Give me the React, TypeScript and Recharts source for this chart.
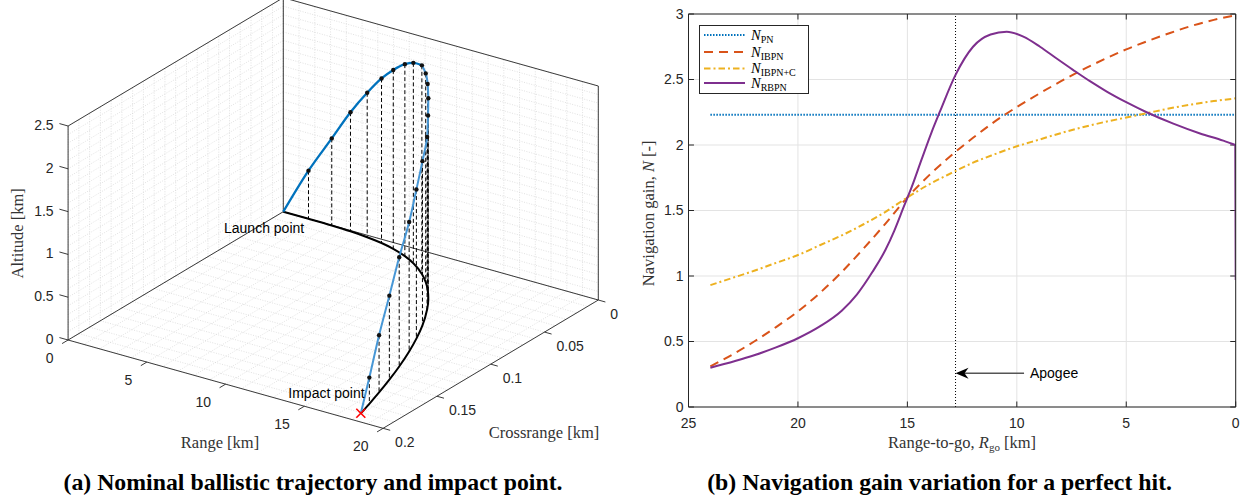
import React from 'react';
import { ComposedChart, Line, XAxis, YAxis, CartesianGrid, ReferenceLine, ReferenceDot, Legend } from 'recharts';

const SANS = '"Liberation Sans", Arial, Helvetica, sans-serif';
const SERIF = '"Liberation Serif", "Times New Roman", serif';
const AXIS_COLOR = '#262626';

// ================= Panel (a): nominal ballistic trajectory (3-D) =================
const trajRange = [0, 1.6, 3.09, 4.32, 5.47, 6.51, 7.44, 8.47, 9.35, 10.5, 11.25, 11.87, 12.52, 12.9, 13.29, 14.24, 14.94, 15.56, 16.22, 16.75, 17.23, 17.63, 17.95];
const trajCross = [0, 0, 0.0002, 0.0008, 0.0021, 0.004, 0.0067, 0.011, 0.016, 0.0249, 0.0323, 0.0396, 0.0485, 0.0543, 0.0609, 0.0791, 0.095, 0.1108, 0.1297, 0.1466, 0.1632, 0.1781, 0.1907];
const trajAlt = [0, 0.562, 1.017, 1.391, 1.687, 1.922, 2.09, 2.243, 2.341, 2.438, 2.438, 2.4, 2.335, 2.196, 2.014, 1.918, 1.741, 1.512, 1.276, 0.982, 0.668, 0.306, 0];
const APOGEE_IDX = 9;

const rangeTicks = [0, 5, 10, 15, 20];
const rangeTickLabels = ['0', '5', '10', '15', '20'];
const crossTicks = [0, 0.05, 0.1, 0.15, 0.2];
const crossTickLabels = ['0', '0.05', '0.1', '0.15', '0.2'];
const altTicks = [0, 0.5, 1, 1.5, 2, 2.5];
const altTickLabels = ['0', '0.5', '1', '1.5', '2', '2.5'];
const RANGE_MAX = 20;
const CROSS_MAX = 0.2;
const ALT_MAX = 2.5;
const rangeMinor = Array.from({ length: 21 }, (_, i) => i);
const crossMinor = Array.from({ length: 21 }, (_, i) => +(i * 0.01).toFixed(2));
const altMinor = Array.from({ length: 26 }, (_, i) => +(i * 0.1).toFixed(1));

// orthographic view of the 3-D axes onto the page plane
const VIEW = { u0: 283.3, v0: 211.7, ur: 15.75, vr: 4.415, uc: -1076, vc: 641.5, va: -85.6 };
type Pt3 = [number, number, number];
const project = (r: number, c: number, a: number) => ({
  u: VIEW.u0 + VIEW.ur * r + VIEW.uc * c,
  v: VIEW.v0 + VIEW.vr * r + VIEW.vc * c + VIEW.va * a,
});
const toSegments = (pairs: [Pt3, Pt3][]) =>
  pairs.flatMap(([a, b]) => {
    const p = project(a[0], a[1], a[2]);
    const q = project(b[0], b[1], b[2]);
    return [p, q, { u: q.u, v: null as number | null }];
  });

const LEFT_W = 640;
const LEFT_H = 470;

const renderText = (p: any) => {
  const d = p.payload;
  if (p.cx == null || p.cy == null) return <g key={`e${p.index}`} />;
  const x = p.cx + d.dx;
  const y = p.cy + d.dy;
  return (
    <text
      key={`t${p.index}`}
      x={x}
      y={y}
      textAnchor={d.anchor}
      dominantBaseline="central"
      fontFamily={d.font}
      fontSize={d.size}
      fill={d.color}
      transform={d.rotate ? `rotate(${d.rotate}, ${x}, ${y})` : undefined}
    >
      {d.text}
    </text>
  );
};

const renderCross = (p: any) => {
  if (p.cx == null) return <g key={`x${p.index}`} />;
  const s = 4.5;
  return (
    <g key={`x${p.index}`}>
      <line x1={p.cx - s} y1={p.cy - s} x2={p.cx + s} y2={p.cy + s} stroke="#ff0000" strokeWidth={1.6} />
      <line x1={p.cx - s} y1={p.cy + s} x2={p.cx + s} y2={p.cy - s} stroke="#ff0000" strokeWidth={1.6} />
    </g>
  );
};

function Panel3D() {
  const gridPairs: [Pt3, Pt3][] = [
    ...rangeMinor.map((r) => [[r, 0, 0], [r, CROSS_MAX, 0]] as [Pt3, Pt3]),
    ...crossMinor.map((c) => [[0, c, 0], [RANGE_MAX, c, 0]] as [Pt3, Pt3]),
    ...rangeMinor.map((r) => [[r, 0, 0], [r, 0, ALT_MAX]] as [Pt3, Pt3]),
    ...altMinor.map((a) => [[0, 0, a], [RANGE_MAX, 0, a]] as [Pt3, Pt3]),
    ...crossMinor.map((c) => [[0, c, 0], [0, c, ALT_MAX]] as [Pt3, Pt3]),
    ...altMinor.map((a) => [[0, 0, a], [0, CROSS_MAX, a]] as [Pt3, Pt3]),
  ];
  const boxPairs: [Pt3, Pt3][] = [
    [[0, CROSS_MAX, 0], [0, CROSS_MAX, ALT_MAX]],
    [[0, CROSS_MAX, ALT_MAX], [0, 0, ALT_MAX]],
    [[0, 0, 0], [0, 0, ALT_MAX]],
    [[0, 0, ALT_MAX], [RANGE_MAX, 0, ALT_MAX]],
    [[RANGE_MAX, 0, ALT_MAX], [RANGE_MAX, 0, 0]],
    [[0, CROSS_MAX, 0], [RANGE_MAX, CROSS_MAX, 0]],
    [[RANGE_MAX, CROSS_MAX, 0], [RANGE_MAX, 0, 0]],
    [[0, CROSS_MAX, 0], [0, 0, 0]],
    [[0, 0, 0], [RANGE_MAX, 0, 0]],
  ];
  const tickPairs: [Pt3, Pt3][] = [
    ...altTicks.map((a) => [[0, CROSS_MAX, a], [-0.55, CROSS_MAX, a]] as [Pt3, Pt3]),
    ...rangeTicks.map((r) => [[r, CROSS_MAX, 0], [r, CROSS_MAX + 0.0056, 0]] as [Pt3, Pt3]),
    ...crossTicks.map((c) => [[RANGE_MAX, c, 0], [RANGE_MAX + 0.45, c, 0]] as [Pt3, Pt3]),
  ];
  const dropPairs: [Pt3, Pt3][] = trajRange
    .map((r, i) => [[r, trajCross[i], trajAlt[i]], [r, trajCross[i], 0]] as [Pt3, Pt3])
    .filter((_, i) => i > 0 && i < trajRange.length - 1);

  const ground = trajRange.map((r, i) => project(r, trajCross[i], 0));
  const traj = trajRange.map((r, i) => project(r, trajCross[i], trajAlt[i]));
  const ascent = traj.slice(0, APOGEE_IDX + 1);
  const descent = traj.slice(APOGEE_IDX);
  const dots = traj.slice(1, traj.length - 1);
  const impact = [traj[traj.length - 1]];

  const tickStyle = { font: SANS, size: 14, color: AXIS_COLOR };
  const titleStyle = { font: SERIF, size: 16.5, color: '#333333' };
  const labels = [
    ...altTicks.map((a, i) => ({ ...project(0, CROSS_MAX, a), text: altTickLabels[i], dx: -14.5, dy: -1, anchor: 'end', ...tickStyle })),
    ...rangeTicks.map((r, i) => ({ ...project(r, CROSS_MAX, 0), text: rangeTickLabels[i], dx: -14.5, dy: 17.5, anchor: 'end', ...tickStyle })),
    ...crossTicks.map((c, i) => ({ ...project(RANGE_MAX, c, 0), text: crossTickLabels[i], dx: 12, dy: 14, anchor: 'start', ...tickStyle })),
    { ...project(0, CROSS_MAX, ALT_MAX / 2), text: 'Altitude [km]', dx: -50.3, dy: 0.3, anchor: 'middle', rotate: -90, ...titleStyle },
    { ...project(RANGE_MAX / 2, CROSS_MAX, 0), text: 'Range [km]', dx: -5.6, dy: 58.5, anchor: 'middle', ...titleStyle },
    { ...project(RANGE_MAX, CROSS_MAX / 2, 0), text: 'Crossrange [km]', dx: 53.3, dy: 68.2, anchor: 'middle', ...titleStyle },
    { ...project(trajRange[0], trajCross[0], 0), text: 'Launch point', dx: -59.3, dy: 16.6, anchor: 'start', font: SANS, size: 14, color: '#000' },
    { ...project(trajRange[trajRange.length - 1], trajCross[trajCross.length - 1], 0), text: 'Impact point', dx: -72.5, dy: -20, anchor: 'start', font: SANS, size: 14, color: '#000' },
  ];

  const common = { dataKey: 'v', isAnimationActive: false, activeDot: false as const, legendType: 'none' as const };

  return (
    <ComposedChart width={LEFT_W} height={LEFT_H} margin={{ top: 0, right: 0, bottom: 0, left: 0 }}>
      <XAxis type="number" dataKey="u" domain={[0, LEFT_W]} hide allowDataOverflow />
      <YAxis type="number" dataKey="v" domain={[0, LEFT_H]} reversed hide allowDataOverflow />
      <Line {...common} data={toSegments(gridPairs)} type="linear" stroke="#d4d4d4" strokeWidth={0.7} strokeDasharray="1 1.5" dot={false} />
      <Line {...common} data={toSegments(boxPairs)} type="linear" stroke={AXIS_COLOR} strokeWidth={0.9} dot={false} />
      <Line {...common} data={toSegments(tickPairs)} type="linear" stroke={AXIS_COLOR} strokeWidth={0.9} dot={false} />
      <Line {...common} data={toSegments(dropPairs)} type="linear" stroke="#000" strokeWidth={1} strokeDasharray="4 2.5" dot={false} />
      <Line {...common} data={ground} type="monotoneY" stroke="#000" strokeWidth={2} dot={false} />
      <Line {...common} data={descent} type="monotoneY" stroke="#4797D6" strokeWidth={2} dot={false} />
      <Line {...common} data={ascent} type="monotoneX" stroke="#0072BD" strokeWidth={2.3} dot={false} />
      <Line {...common} data={dots} type="linear" stroke="none" dot={{ r: 2.2, fill: '#111', stroke: '#111', strokeWidth: 0 }} />
      <Line {...common} data={impact} type="linear" stroke="none" dot={renderCross} />
      <Line {...common} data={labels} type="linear" stroke="none" dot={renderText} />
    </ComposedChart>
  );
}

// ================= Panel (b): navigation gain vs range-to-go =================
const rgoPN = [24, 0];
const gainPN = [2.23, 2.23];

const rgoIBPN = [24, 23, 22, 21, 20, 19, 18, 17, 16, 15, 14, 13, 12, 11, 10, 9, 8, 7, 6, 5, 4, 3, 2, 1, 0];
const gainIBPN = [0.31, 0.4, 0.5, 0.61, 0.73, 0.87, 1.03, 1.21, 1.4, 1.6, 1.77, 1.92, 2.055, 2.18, 2.29, 2.39, 2.485, 2.575, 2.655, 2.73, 2.795, 2.855, 2.91, 2.955, 2.99];

const rgoIBPNC = [24, 23, 22, 21, 20, 19, 18, 17, 16, 15, 14, 13, 12, 11, 10, 9, 8, 7, 6, 5, 4, 3, 2, 1, 0];
const gainIBPNC = [0.93, 0.985, 1.04, 1.1, 1.16, 1.235, 1.31, 1.395, 1.49, 1.6, 1.7, 1.785, 1.865, 1.93, 1.99, 2.04, 2.09, 2.135, 2.175, 2.21, 2.245, 2.28, 2.31, 2.335, 2.356];

const rgoRBPN = [24, 22, 21, 20, 19, 18, 17.3, 16.6, 16, 15.6, 15.15, 14.8, 14.35, 13.9, 13.5, 12.8, 12, 11.2, 10.46, 9.7, 8.94, 8.18, 7.42, 6.66, 5.89, 4.98, 4.07, 2.85, 1.63, 0.57, 0.14, 0.02, 0];
const gainRBPN = [0.3, 0.395, 0.455, 0.525, 0.615, 0.735, 0.86, 1.03, 1.2, 1.345, 1.535, 1.68, 1.89, 2.095, 2.26, 2.535, 2.75, 2.843, 2.865, 2.827, 2.75, 2.66, 2.572, 2.487, 2.408, 2.325, 2.25, 2.163, 2.088, 2.033, 2.008, 2.0, 0.97];

const APOGEE_RGO = 12.8;
const ARROW_FROM = 9.67;
const ARROW_Y = 0.257;
const APOGEE_TEXT_X = 9.4;

const xTicks = [25, 20, 15, 10, 5, 0];
const yTicks = [0, 0.5, 1, 1.5, 2, 2.5, 3];
const X_MAX = 25;
const Y_MAX = 3;

const SERIES = [
  { sub: 'PN', color: '#0072BD', dash: '1.5 1.5' },
  { sub: 'IBPN', color: '#D95319', dash: '9 6' },
  { sub: 'IBPN+C', color: '#EDB120', dash: '6.5 3 2 3' },
  { sub: 'RBPN', color: '#7E2F8E', dash: undefined as string | undefined },
];
const legendRowY = [9, 26, 42.5, 57];

const renderLegend = () => (
  <div style={{ width: 110, height: 69, border: `1px solid ${AXIS_COLOR}`, background: '#fff', boxSizing: 'border-box' }}>
    <svg width={108} height={67} style={{ display: 'block' }}>
      {SERIES.map((s, i) => (
        <g key={s.sub}>
          <line x1={4} x2={45} y1={legendRowY[i]} y2={legendRowY[i]} stroke={s.color} strokeWidth={2} strokeDasharray={s.dash} />
          <text x={51} y={legendRowY[i] + 4.5} fontFamily={SERIF} fontSize={14.5} fontStyle="italic" fill="#000">
            N
            <tspan fontStyle="normal" fontSize={10} dy={3}>
              {s.sub}
            </tspan>
          </text>
        </g>
      ))}
    </svg>
  </div>
);

const XLabel = (props: any) => {
  const vb = props.viewBox || {};
  return (
    <text x={vb.x + vb.width / 2} y={vb.y + 40.5} textAnchor="middle" fontFamily={SERIF} fontSize={16.5} fill="#333">
      Range-to-go,{' '}
      <tspan fontStyle="italic">R</tspan>
      <tspan fontSize={11} dy={3}>go</tspan>
      <tspan dy={-3}> [km]</tspan>
    </text>
  );
};

const YLabel = (props: any) => {
  const vb = props.viewBox || {};
  const x = vb.x + 13.6;
  const y = vb.y + vb.height / 2 + 2.8;
  return (
    <text x={x} y={y} textAnchor="middle" fontFamily={SERIF} fontSize={16.5} fill="#333" transform={`rotate(-90, ${x}, ${y})`}>
      Navigation gain, <tspan fontStyle="italic">N</tspan> [-]
    </text>
  );
};

function GainPanel() {
  const pn = rgoPN.map((r, i) => ({ r, n: gainPN[i] }));
  const ibpn = rgoIBPN.map((r, i) => ({ r, n: gainIBPN[i] }));
  const ibpnc = rgoIBPNC.map((r, i) => ({ r, n: gainIBPNC[i] }));
  const rbpn = rgoRBPN.map((r, i) => ({ r, n: gainRBPN[i] }));
  const tickLenY = 0.042;
  const tickLenX = 0.25;
  const tickStyle = { fontSize: 14, fill: AXIS_COLOR, fontFamily: SANS };

  return (
    <ComposedChart width={609} height={460} margin={{ top: 14, right: 13.3, bottom: 0, left: 0 }}>
      <CartesianGrid stroke="#e3e3e3" strokeWidth={1} />
      <XAxis
        type="number"
        dataKey="r"
        domain={[0, X_MAX]}
        reversed
        ticks={xTicks}
        interval={0}
        height={53}
        axisLine={false}
        tickLine={false}
        tickSize={0}
        tickMargin={11}
        tick={tickStyle}
        allowDataOverflow
        label={{ content: XLabel }}
      />
      <YAxis
        type="number"
        domain={[0, Y_MAX]}
        ticks={yTicks}
        interval={0}
        width={48.5}
        axisLine={false}
        tickLine={false}
        tickSize={0}
        tickMargin={5}
        tick={tickStyle}
        allowDataOverflow
        label={{ content: YLabel }}
      />
      {xTicks.map((t) => (
        <ReferenceLine key={`xb${t}`} segment={[{ x: t, y: 0 }, { x: t, y: tickLenY }]} stroke={AXIS_COLOR} strokeWidth={1} />
      ))}
      {xTicks.map((t) => (
        <ReferenceLine key={`xt${t}`} segment={[{ x: t, y: Y_MAX }, { x: t, y: Y_MAX - tickLenY }]} stroke={AXIS_COLOR} strokeWidth={1} />
      ))}
      {yTicks.map((t) => (
        <ReferenceLine key={`yl${t}`} segment={[{ x: X_MAX, y: t }, { x: X_MAX - tickLenX, y: t }]} stroke={AXIS_COLOR} strokeWidth={1} />
      ))}
      {yTicks.map((t) => (
        <ReferenceLine key={`yr${t}`} segment={[{ x: 0, y: t }, { x: tickLenX, y: t }]} stroke={AXIS_COLOR} strokeWidth={1} />
      ))}
      <ReferenceLine x={APOGEE_RGO} stroke="#000" strokeWidth={1} strokeDasharray="1 2" />
      <Line data={pn} dataKey="n" type="linear" stroke="#0072BD" strokeWidth={2} strokeDasharray="1.5 1.5" dot={false} activeDot={false} isAnimationActive={false} name="PN" />
      <Line data={ibpn} dataKey="n" type="monotone" stroke="#D95319" strokeWidth={2} strokeDasharray="9 6" dot={false} activeDot={false} isAnimationActive={false} name="IBPN" />
      <Line data={ibpnc} dataKey="n" type="monotone" stroke="#EDB120" strokeWidth={2} strokeDasharray="6.5 3 2 3" dot={false} activeDot={false} isAnimationActive={false} name="IBPN+C" />
      <Line data={rbpn} dataKey="n" type="monotone" stroke="#7E2F8E" strokeWidth={2} dot={false} activeDot={false} isAnimationActive={false} name="RBPN" />
      <ReferenceLine x={X_MAX} stroke={AXIS_COLOR} strokeWidth={1} />
      <ReferenceLine x={0} stroke={AXIS_COLOR} strokeWidth={1} />
      <ReferenceLine y={0} stroke={AXIS_COLOR} strokeWidth={1} />
      <ReferenceLine y={Y_MAX} stroke={AXIS_COLOR} strokeWidth={1} />
      <ReferenceLine segment={[{ x: ARROW_FROM, y: ARROW_Y }, { x: APOGEE_RGO - 0.3, y: ARROW_Y }]} stroke="#555" strokeWidth={1.5} />
      <ReferenceDot
        x={APOGEE_RGO}
        y={ARROW_Y}
        r={0}
        shape={(p: any) => (
          <path d={`M${p.cx},${p.cy} L${p.cx + 13},${p.cy - 5.5} L${p.cx + 9},${p.cy} L${p.cx + 13},${p.cy + 5.5} Z`} fill="#000" />
        )}
      />
      <ReferenceDot
        x={APOGEE_TEXT_X}
        y={ARROW_Y}
        r={0}
        shape={(p: any) => (
          <text x={p.cx} y={p.cy} dominantBaseline="central" fontFamily={SANS} fontSize={14} fill="#000">
            Apogee
          </text>
        )}
      />
      <Legend
        content={renderLegend}
        layout="horizontal"
        verticalAlign="middle"
        align="center"
        wrapperStyle={{ left: 59, top: 25, width: 110, height: 69 }}
      />
    </ComposedChart>
  );
}

const caption = (cx: number): React.CSSProperties => ({
  position: 'absolute',
  left: cx - 300,
  width: 600,
  top: 468,
  textAlign: 'center',
  fontFamily: SERIF,
  fontWeight: 'bold',
  fontSize: 23.8,
  lineHeight: '28px',
  color: '#000',
  whiteSpace: 'nowrap',
});

export default function App() {
  return (
    <div style={{ position: 'absolute', left: 0, top: 0, width: 1249, height: 503, background: '#fff', overflow: 'hidden' }}>
      <div style={{ position: 'absolute', left: 0, top: 0 }}>
        <Panel3D />
      </div>
      <div style={{ position: 'absolute', left: 640, top: 0 }}>
        <GainPanel />
      </div>
      <div style={caption(313)}>(a) Nominal ballistic trajectory and impact point.</div>
      <div style={caption(939.6)}>(b) Navigation gain variation for a perfect hit.</div>
    </div>
  );
}
